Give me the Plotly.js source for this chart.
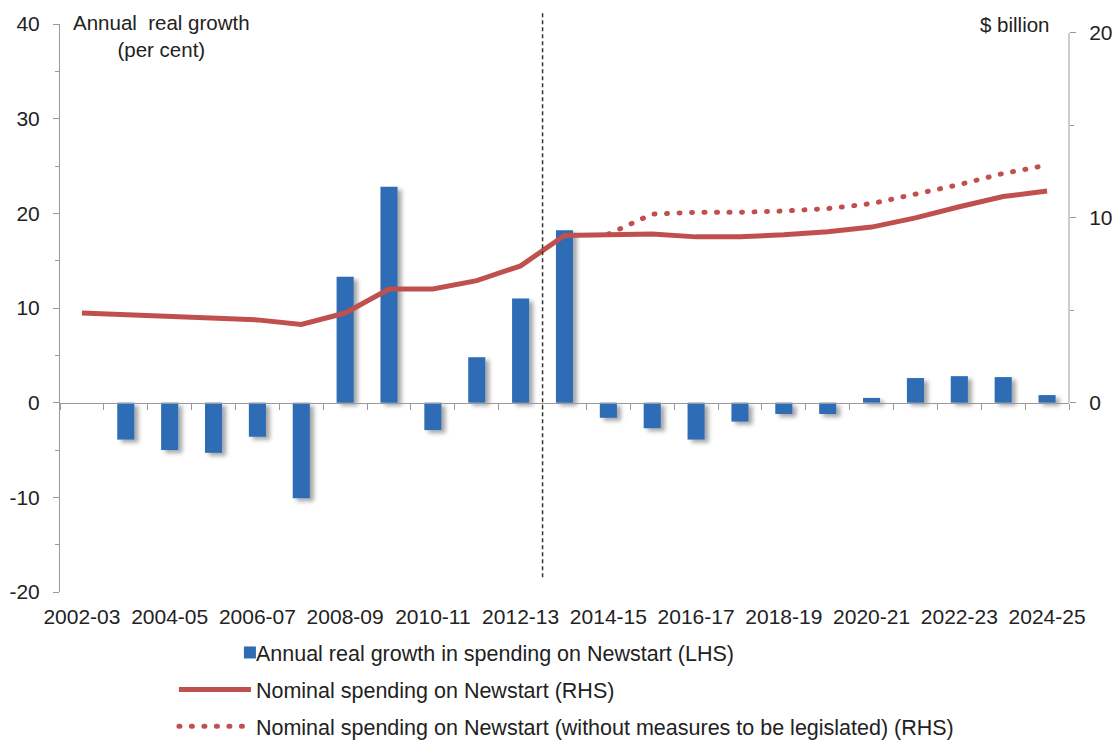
<!DOCTYPE html>
<html>
<head>
<meta charset="utf-8">
<script src="https://cdn.plot.ly/plotly-3.0.1.min.js"></script>
<style>
  html, body { margin: 0; padding: 0; background: #fff; }
  #chart { width: 1117px; height: 743px; }
</style>
</head>
<body>
<div id="chart"></div>
<script>
// Financial years shown on the horizontal axis
const years = ['2002-03', '2003-04', '2004-05', '2005-06', '2006-07', '2007-08', '2008-09',
  '2009-10', '2010-11', '2011-12', '2012-13', '2013-14', '2014-15', '2015-16', '2016-17',
  '2017-18', '2018-19', '2019-20', '2020-21', '2021-22', '2022-23', '2023-24', '2024-25'];

// Annual real growth in spending on Newstart, per cent (LHS)
const realGrowth = [null, -3.9, -5.0, -5.3, -3.6, -10.1, 13.3, 22.8, -2.9, 4.8, 11.0, 18.2,
  -1.6, -2.7, -3.9, -2.0, -1.2, -1.2, 0.5, 2.6, 2.8, 2.7, 0.8];

// Nominal spending on Newstart, $ billion (RHS)
const nominal = [4.85, 4.75, 4.62, 4.56, 4.48, 4.23, 4.85, 6.15, 6.15, 6.6, 7.4, 9.05,
  9.12, 9.13, 8.97, 8.97, 9.08, 9.25, 9.5, 10.0, 10.6, 11.15, 11.45];

// Nominal spending without measures to be legislated, $ billion (RHS)
const projYears = ['2014-15', '2015-16', '2016-17', '2017-18', '2018-19', '2019-20',
  '2020-21', '2021-22', '2022-23', '2023-24', '2024-25'];
const noMeasures = [9.12, 10.2, 10.3, 10.3, 10.37, 10.5, 10.77, 11.3, 11.8, 12.4, 12.85];

// Axis tick values
const leftTicks = [-20, -10, 0, 10, 20, 30, 40];
const rightTicks = [0, 10, 20];

// Every second year is labelled
const tickLabels = years.map((y, i) => (i % 2 === 0 ? y : ''));

const FONT = 'Liberation Sans, Arial, sans-serif';
const AXIS_GREY = '#9a9a9a';
const TEXT = '#222';
const BLUE = '#2e6cb5';
const RED = '#c0504d';

const data = [
  {
    type: 'bar', x: years, y: realGrowth, yaxis: 'y',
    name: 'Annual real growth in spending on Newstart (LHS)',
    legendgroup: 'g1', width: 0.39,
    marker: { color: BLUE, line: { width: 0 } },
    hoverinfo: 'skip'
  },
  {
    type: 'scatter', mode: 'lines', x: years, y: nominal, yaxis: 'y2',
    name: 'Nominal spending on Newstart (RHS)',
    legendgroup: 'g2',
    line: { color: RED, width: 5 },
    hoverinfo: 'skip'
  },
  {
    type: 'scatter', mode: 'lines', x: projYears, y: noMeasures, yaxis: 'y2',
    name: 'Nominal spending on Newstart (without measures to be legislated) (RHS)',
    legendgroup: 'g3',
    line: { color: RED, width: 5, dash: '1px,11.5px' },
    hoverinfo: 'skip'
  }
];

const layout = {
  width: 1117, height: 743,
  margin: { l: 60, r: 48, t: 24, b: 151 },
  paper_bgcolor: '#fff', plot_bgcolor: '#fff',
  font: { family: FONT, size: 21, color: TEXT },
  showlegend: true,
  xaxis: {
    type: 'category', categoryorder: 'array', categoryarray: years,
    range: [-0.5, years.length - 0.5],
    anchor: 'free', position: 1 / 3,
    showline: true, linecolor: AXIS_GREY, linewidth: 1,
    ticks: 'outside', tickson: 'boundaries', ticklen: 6, tickcolor: AXIS_GREY,
    tickmode: 'array', tickvals: years, ticktext: tickLabels, tickangle: 0,
    tickfont: { family: FONT, size: 21, color: TEXT },
    ticklabelstandoff: 195,
    showgrid: false, zeroline: false, fixedrange: true, automargin: false
  },
  yaxis: {
    range: [-20, 40],
    tickmode: 'array', tickvals: leftTicks, ticktext: leftTicks.map(String),
    tickfont: { family: FONT, size: 21, color: TEXT },
    ticks: 'outside', ticklen: 6, tickcolor: AXIS_GREY,
    showline: true, linecolor: AXIS_GREY, linewidth: 1,
    showgrid: false, zeroline: false,
    minor: { tick0: 0, dtick: 5, ticks: 'outside', ticklen: 4, tickcolor: AXIS_GREY },
    ticklabelstandoff: 9, fixedrange: true, automargin: false
  },
  yaxis2: {
    overlaying: 'y', side: 'right', anchor: 'x',
    range: [-10.24, 20.485],
    tickmode: 'array', tickvals: rightTicks, ticktext: rightTicks.map(String),
    tickfont: { family: FONT, size: 21, color: TEXT },
    ticks: 'outside', ticklen: 6, tickcolor: AXIS_GREY,
    showline: false, showgrid: false, zeroline: false,
    minor: { tickmode: 'array', tickvals: [5, 15], ticks: 'outside', ticklen: 4, tickcolor: AXIS_GREY },
    ticklabelstandoff: 9, fixedrange: true, automargin: false
  },
  legend: {
    xref: 'paper', yref: 'container',
    x: 0.1129, xanchor: 'left', y: 0.1494, yanchor: 'top',
    orientation: 'v', traceorder: 'grouped', tracegroupgap: 6,
    itemwidth: 72,
    bgcolor: 'rgba(0,0,0,0)', font: { family: FONT, size: 21.5, color: TEXT }
  },
  shapes: [
    // right-hand axis line, spanning 0 to 20
    { type: 'line', xref: 'paper', x0: 1, x1: 1, yref: 'y2', y0: 0, y1: 20,
      line: { color: AXIS_GREY, width: 1 } },
    // dashed divider between actuals and projections
    { type: 'line', xref: 'x', x0: 10.5, x1: 10.5, yref: 'paper', y0: 0.026, y1: 1.02,
      line: { color: '#333', width: 1.5, dash: '4px,3px' } }
  ],
  annotations: [
    { xref: 'paper', yref: 'paper', x: 0.101, y: 1.026, xanchor: 'center', yanchor: 'top',
      text: 'Annual  real growth<br>(per cent)', showarrow: false, align: 'center',
      font: { family: FONT, size: 20.5, color: TEXT } },
    { xref: 'paper', yref: 'paper', x: 0.983, y: 1.0, xanchor: 'right', yanchor: 'middle',
      text: '$ billion', showarrow: false,
      font: { family: FONT, size: 20.5, color: TEXT } }
  ]
};

const gd = document.getElementById('chart');
Plotly.newPlot(gd, data, layout, { staticPlot: true, displayModeBar: false }).then(() => {
  const ns = 'http://www.w3.org/2000/svg';
  const svg = gd.querySelector('svg.main-svg');
  let defs = svg.querySelector('defs');
  if (!defs) { defs = document.createElementNS(ns, 'defs'); svg.insertBefore(defs, svg.firstChild); }
  const filter = document.createElementNS(ns, 'filter');
  filter.setAttribute('id', 'barShadow');
  filter.setAttribute('x', '-10%'); filter.setAttribute('y', '-10%');
  filter.setAttribute('width', '120%'); filter.setAttribute('height', '120%');
  const drop = document.createElementNS(ns, 'feDropShadow');
  drop.setAttribute('dx', '4'); drop.setAttribute('dy', '3');
  drop.setAttribute('stdDeviation', '2');
  drop.setAttribute('flood-color', '#000'); drop.setAttribute('flood-opacity', '0.35');
  filter.appendChild(drop);
  defs.appendChild(filter);
  gd.querySelectorAll('.barlayer .trace').forEach(t => t.setAttribute('filter', 'url(#barShadow)'));

  // round caps turn the short dashes into dots
  gd.querySelectorAll('path.js-line').forEach(p => {
    const d = p.style.strokeDasharray;
    if (d && d !== 'none' && d !== '') p.style.strokeLinecap = 'round';
  });

  // sit the bar swatch right beside its legend label
  const firstItem = gd.querySelector('.legend .traces');
  if (firstItem) {
    const pts = firstItem.querySelector('.legendpoints');
    if (pts) pts.setAttribute('transform', 'translate(35,0)');
  }
});
</script>
</body>
</html>
